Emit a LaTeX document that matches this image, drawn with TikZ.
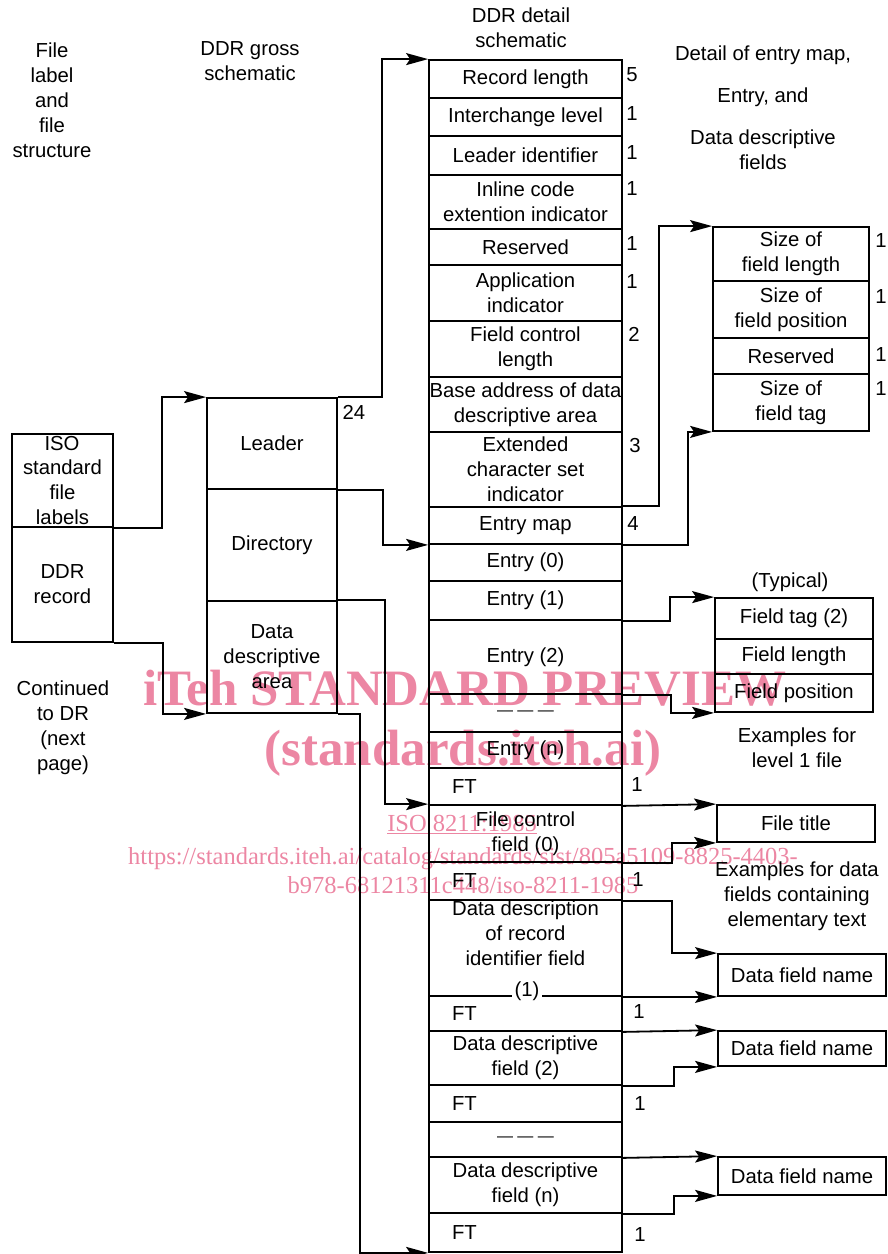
\documentclass[tikz,border=0pt]{standalone}
\usepackage{fontspec}
\setmainfont{Liberation Sans}
\newfontfamily\wmfont{Liberation Serif}
\usetikzlibrary{arrows.meta}
\definecolor{wm}{RGB}{236,134,163}
\newcommand\mainf{\fontsize{20.3}{25}\selectfont}
\begin{document}
\begin{tikzpicture}[x=1pt,y=-1pt,line width=1.8pt,
  lbl/.style={inner sep=0pt, align=center, font=\mainf},
  box/.style={draw, rectangle, inner sep=0pt, align=center, font=\mainf},
  row/.style={box, minimum width=193pt},
  ftrow/.style={box, minimum width=193pt, text width=147pt, align=left, inner xsep=23pt},
  dashrow/.style={box, minimum width=193pt, font=\fontsize{16}{20}\selectfont},
  num/.style={inner sep=0pt, font=\mainf},
  arr/.style={-{Stealth[length=22pt,width=12pt,inset=4pt]}},
  wmbig/.style={inner sep=0pt, text=wm, font=\wmfont\bfseries\fontsize{51}{51}\selectfont},
  wmsmall/.style={inner sep=0pt, text=wm, font=\wmfont\fontsize{24.5}{25}\selectfont}]
\useasboundingbox (0,0) rectangle (888,1254);

% watermark (behind)
\node[wmbig, anchor=base] (w1) at (465,705) {iTeh STANDARD PREVIEW};
\node[wmbig, anchor=base] (w2) at (463,765) {(standards.iteh.ai)};
\node[wmsmall, anchor=base] (w3) at (462,831) {\underline{ISO 8211:1985}};
\node[wmsmall, anchor=base] (w4) at (463,864) {https://standards.iteh.ai/catalog/standards/sist/805a5109-8825-4403-};
\node[wmsmall, anchor=base] (w5) at (463,893) {b978-68121311c448/iso-8211-1985};

% headings
\node[lbl] (h1) at (52,100) {File\\label\\and\\file\\structure};
\node[lbl] (h2) at (250,61) {DDR gross\\schematic};
\node[lbl] (h3) at (521,28) {DDR detail\\schematic};
\node[lbl] (h4) at (763,55) {Detail of entry map,};
\node[lbl] (h5) at (763,97) {Entry, and};
\node[lbl] (h6) at (763,150) {Data descriptive\\fields};
\node[lbl] (h7) at (63,728) {Continued\\to DR\\(next\\page)};
\node[lbl] (h8) at (790,582) {(Typical)};
\node[lbl] (h9) at (797,748) {Examples for\\level 1 file};
\node[lbl] (h10) at (797,896) {Examples for data\\fields containing\\elementary text};

% file label column
\node[box, minimum width=101pt, minimum height=93pt] (iso) at (62.5,480.5) {\phantom{ISO}\\standard\\file\\labels};
\node[box, minimum width=101pt, minimum height=115pt] (ddr) at (62.5,584.5) {DDR\\record};
\node[lbl, fill=white, inner xsep=2.5pt, inner ysep=1.2pt, anchor=base] (isot) at (62,450) {ISO};

% gross schematic
\node[box, minimum width=130pt, minimum height=91pt] (lead) at (272,443.5) {Leader};
\node[box, minimum width=130pt, minimum height=112pt] (dir) at (272,545) {Directory};
\node[box, minimum width=130pt, minimum height=112pt] (dda) at (272,657) {Data\\descriptive\\area};
\node[num] (n24) at (354,412) {24};

% detail schematic
\node[row, minimum height=38pt] (r1) at (525.5,79) {Record length};
\node[row, minimum height=38pt] (r2) at (525.5,117) {Interchange level};
\node[row, minimum height=39pt] (r3) at (525.5,155.5) {Leader identifier};
\node[row, minimum height=54pt] (r4) at (525.5,202) {Inline code\\extention indicator};
\node[row, minimum height=36pt] (r5) at (525.5,247) {Reserved};
\node[row, minimum height=56pt] (r6) at (525.5,293) {Application\\indicator};
\node[row, minimum height=56pt] (r7) at (525.5,349) {Field control\\length};
\node[row, minimum height=55pt] (r8) at (525.5,404.5) {Base address of data\\descriptive area};
\node[row, minimum height=75pt] (r9) at (525.5,469.5) {Extended\\character set\\indicator};
\node[row, minimum height=37pt] (r10) at (525.5,525.5) {Entry map};
\node[row, minimum height=37pt] (r11) at (525.5,562.5) {Entry (0)};
\node[row, minimum height=39pt] (r12) at (525.5,600.5) {Entry (1)};
\node[row, minimum height=74pt] (r13) at (525.5,657) {Entry (2)};
\node[dashrow, minimum height=38pt] (r14) at (525.5,713) {— — —};
\node[row, minimum height=36pt] (r15) at (525.5,750) {Entry (n)};
\node[ftrow, minimum height=37pt] (r16) at (525.5,786.5) {FT};
\node[row, minimum height=57pt] (r17) at (525.5,833.5) {File control\\field (0)};
\node[ftrow, minimum height=38pt] (r18) at (525.5,881) {FT};
\node[row, minimum height=96pt] (r19) at (525.5,948) {Data description\\of record\\identifier field\\\phantom{(1)}};
\node[ftrow, minimum height=35pt] (r20) at (525.5,1013.5) {FT};
\node[row, minimum height=54pt] (r21) at (525.5,1058) {Data descriptive\\field (2)};
\node[ftrow, minimum height=37pt] (r22) at (525.5,1103.5) {FT};
\node[dashrow, minimum height=35pt] (r23) at (525.5,1139.5) {— — —};
\node[row, minimum height=56pt] (r24) at (525.5,1185) {Data descriptive\\field (n)};
\node[ftrow, minimum height=39pt] (r25) at (525.5,1232.5) {FT};
\node[lbl, fill=white, inner xsep=3pt, inner ysep=1.2pt] (one) at (527,991) {(1)};

% numbers
\node[num] (m1) at (632,75) {5};
\node[num] (m2) at (632,114) {1};
\node[num] (m3) at (632,153) {1};
\node[num] (m4) at (632,189) {1};
\node[num] (m5) at (632,244) {1};
\node[num] (m6) at (632,282) {1};
\node[num] (m7) at (634,334) {2};
\node[num] (m8) at (635,446) {3};
\node[num] (m9) at (633,524) {4};
\node[num] (m10) at (637,785) {1};
\node[num] (m11) at (638,880) {1};
\node[num] (m12) at (639,1012) {1};
\node[num] (m13) at (640,1104) {1};
\node[num] (m14) at (640,1235) {1};

% entry map detail
\node[box, minimum width=156pt, minimum height=54pt] (s1) at (791,254) {Size of\\field length};
\node[box, minimum width=156pt, minimum height=57pt] (s2) at (791,309.5) {Size of\\field position};
\node[box, minimum width=156pt, minimum height=36pt] (s3) at (791,356) {Reserved};
\node[box, minimum width=156pt, minimum height=57pt] (s4) at (791,402.5) {Size of\\field tag};
\node[num] (k1) at (881,241) {1};
\node[num] (k2) at (881,297) {1};
\node[num] (k3) at (881,355) {1};
\node[num] (k4) at (881,389) {1};

% typical entry
\node[box, minimum width=158pt, minimum height=41pt] (t1) at (794,618.5) {Field tag (2)};
\node[box, minimum width=158pt, minimum height=35pt] (t2) at (794,656.5) {Field length};
\node[box, minimum width=158pt, minimum height=38pt] (t3) at (794,693) {Field position};

% examples
\node[box, minimum width=158pt, minimum height=37pt] (ft) at (796,823.5) {File title};
\node[box, minimum width=168pt, minimum height=42pt] (d1) at (802,975) {Data field name};
\node[box, minimum width=168pt, minimum height=35pt] (d2) at (802,1048.5) {Data field name};
\node[box, minimum width=168pt, minimum height=38pt] (d3) at (802,1176) {Data field name};

% connectors
\draw[arr] (iso.south east) -- ++(48,0) |- (lead.north west);
\draw[arr] (ddr.south east) -- ++(49,0) |- (dda.south west);
\draw[arr] (lead.north east) -- ++(44,0) |- (r1.north west);
\draw[arr] (lead.south east) -- ++(45,0) |- (r10.south west);
\draw[arr] (dda.north east) -- ++(47,0) |- (r17.north west);
\draw[arr] (dda.south east) -- ++(22,0) |- (r25.south west);
\draw[arr] (r10.north east) -- ++(36,0) |- (s1.north west);
\draw[arr] (r10.south east) -- ++(65,0) |- (s4.south west);
\draw[arr] (r12.south east) -- ++(47,0) |- (t1.north west);
\draw[arr] (r13.south east) -- ++(48,0) |- (t3.south west);
\draw[arr] (r16.south east) -- (ft.north west);
\draw[arr] (r17.south east) -- ++(49,0) |- (ft.south west);
\draw[arr] (r18.south east) -- ++(49,0) |- (d1.north west);
\draw[arr] (r19.south east) -- (d1.south west);
\draw[arr] (r20.south east) -- (d2.north west);
\draw[arr] (r21.south east) -- ++(51,0) |- (d2.south west);
\draw[arr] (r23.south east) -- (d3.north west);
\draw[arr] (r24.south east) -- ++(51,0) |- (d3.south west);
\end{tikzpicture}
\end{document}
